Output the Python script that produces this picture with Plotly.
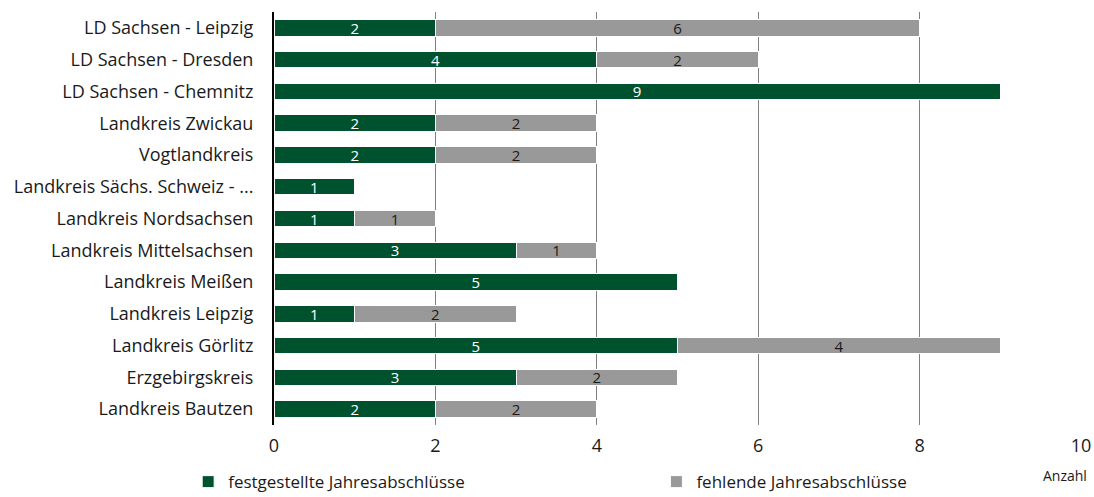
import plotly.graph_objects as go

categories = [
    "LD Sachsen - Leipzig",
    "LD Sachsen - Dresden",
    "LD Sachsen - Chemnitz",
    "Landkreis Zwickau",
    "Vogtlandkreis",
    "Landkreis Sächs. Schweiz - ...",
    "Landkreis Nordsachsen",
    "Landkreis Mittelsachsen",
    "Landkreis Meißen",
    "Landkreis Leipzig",
    "Landkreis Görlitz",
    "Erzgebirgskreis",
    "Landkreis Bautzen",
]
festgestellt = [2, 4, 9, 2, 2, 1, 1, 3, 5, 1, 5, 3, 2]
fehlend = [6, 2, None, 2, 2, None, 1, 1, None, 2, 4, 2, 2]
x_ticks = [0, 2, 4, 6, 8, 10]

FONT = "Open Sans"
GREEN = "#00522f"
GRAY = "#999999"

fig = go.Figure()
fig.add_trace(go.Bar(
    y=categories, x=festgestellt, orientation="h",
    name="festgestellte Jahresabschlüsse",
    marker=dict(color=GREEN, line=dict(color="#ffffff", width=1)),
    text=festgestellt, textposition="inside", insidetextanchor="middle",
    textangle=0, constraintext="none",
    textfont=dict(color="white", size=15, family=FONT),
    width=0.52, legend="legend",
))
fig.add_trace(go.Bar(
    y=categories, x=fehlend, orientation="h",
    name="fehlende Jahresabschlüsse",
    marker=dict(color=GRAY, line=dict(color="#ffffff", width=1)),
    text=[v if v is not None else "" for v in fehlend],
    textposition="inside", insidetextanchor="middle",
    textangle=0, constraintext="none",
    textfont=dict(color="#1a1a1a", size=15, family=FONT),
    width=0.52, legend="legend2",
))

legend_common = dict(
    orientation="h", xref="container", yref="container",
    yanchor="middle", xanchor="left",
    font=dict(size=17, family=FONT), bgcolor="rgba(0,0,0,0)",
    itemwidth=30,
)

fig.update_layout(
    barmode="stack",
    width=1094, height=497,
    margin=dict(l=274, r=13, t=12, b=72, autoexpand=False),
    plot_bgcolor="white", paper_bgcolor="white",
    font=dict(family=FONT, size=18, color="#1a1a1a"),
    xaxis=dict(
        range=[0, 10], tickvals=x_ticks, showgrid=True,
        gridcolor="#808080", gridwidth=1, zeroline=False,
        showline=False, tickfont=dict(size=18), ticks="",
        ticklabelstandoff=8, automargin=False,
    ),
    yaxis=dict(
        autorange="reversed", showline=True, linecolor="#000000",
        linewidth=2, ticks="", ticklabelstandoff=15,
        tickfont=dict(size=18), automargin=False,
    ),
    legend=dict(x=0.172, y=0.03, **legend_common),
    legend2=dict(x=0.600, y=0.03, **legend_common),
    showlegend=True,
)
fig.add_annotation(
    text="Anzahl", xref="paper", yref="paper", x=1.01, y=-0.095,
    xanchor="right", yanchor="top", showarrow=False,
    font=dict(size=14, family=FONT),
)

fig.write_html(
    "out.html",
    config={"displayModeBar": False},
    post_script="document.body.style.margin='0';document.body.style.overflow='hidden';",
)
